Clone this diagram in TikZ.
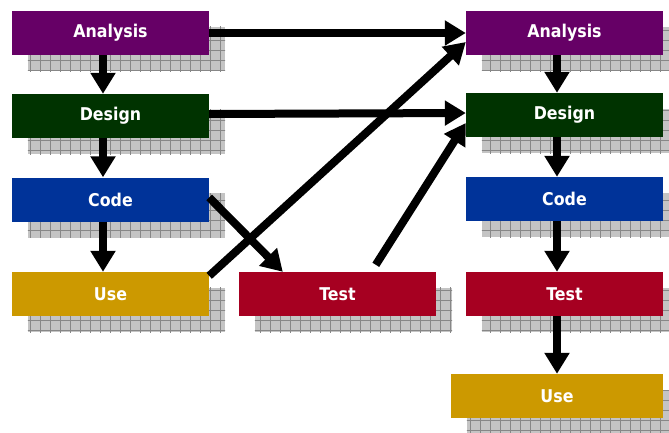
\documentclass[tikz,border=0pt]{standalone}
\usepackage{fontspec}
\setmainfont{DejaVu Sans Condensed}
\usetikzlibrary{arrows.meta,calc}

\definecolor{cAnalysis}{RGB}{102,0,102}
\definecolor{cDesign}{RGB}{0,51,0}
\definecolor{cCode}{RGB}{0,51,153}
\definecolor{cUse}{RGB}{204,153,0}
\definecolor{cTest}{RGB}{166,0,33}
\definecolor{shadefill}{RGB}{196,196,196}
\definecolor{shadegrid}{RGB}{135,135,135}

\tikzset{
  phase/.style={minimum width=197pt, minimum height=44pt, inner sep=0pt,
    text=white, font=\fontsize{17.6}{20}\selectfont\bfseries},
  flow/.style={line width=8pt, -{Triangle[length=21pt,width=24pt]}},
}

% hatched drop shadow behind a box
\newcommand\boxshade[1]{%
  \begin{scope}
    \clip ($(#1.north west)+(16,16)$) rectangle ($(#1.south east)+(16,16)$);
    \fill[shadefill] ($(#1.north west)+(16,16)$) rectangle ($(#1.south east)+(16,16)$);
    \draw[shadegrid, line width=0.9pt, step=10pt]
      ($(#1.north west)+(10,10)$) grid ($(#1.south east)+(22,22)$);
  \end{scope}}

\begin{document}
\begin{tikzpicture}[x=1pt, y=-1pt]
\useasboundingbox (0,0) rectangle (669,432);

% node placement (shadows are drawn first, boxes on top)
\path (110.5,33)  node[phase] (A1) {\phantom{A}}
      (110.5,116) node[phase] (D1) {\phantom{D}}
      (110.5,199.5) node[phase] (C1) {\phantom{C}}
      (110.5,294) node[phase] (U1) {\phantom{U}}
      (337.5,294) node[phase] (T)  {\phantom{T}}
      (564.5,33)  node[phase] (A2) {\phantom{A}}
      (564.5,115) node[phase] (D2) {\phantom{D}}
      (564.5,199) node[phase] (C2) {\phantom{C}}
      (564.5,294) node[phase] (T2) {\phantom{T}}
      (557,396)   node[phase, minimum width=212pt] (U2) {\phantom{U}};

\foreach \n in {A1,D1,C1,U1,T,A2,D2,C2,T2,U2} {\boxshade{\n}}

% the phase boxes
\node[phase, fill=cAnalysis] at (A1) {Analysis};
\node[phase, fill=cDesign]   at (D1) {Design};
\node[phase, fill=cCode]     at (C1) {Code};
\node[phase, fill=cUse]      at (U1) {Use};
\node[phase, fill=cTest]     at (T)  {Test};
\node[phase, fill=cAnalysis] at (A2) {Analysis};
\node[phase, fill=cDesign]   at (D2) {Design};
\node[phase, fill=cCode]     at (C2) {Code};
\node[phase, fill=cTest]     at (T2) {Test};
\node[phase, fill=cUse, minimum width=212pt] at (U2) {Use};

% waterfall on the left
\draw[flow] ($(A1.south)+(-7.5,0)$) -- ($(D1.north)+(-7.5,0)$);
\draw[flow] ($(D1.south)+(-7.5,0)$) -- ($(C1.north)+(-7.5,0)$);
\draw[flow] ($(C1.south)+(-7.5,0)$) -- ($(U1.north)+(-7.5,0)$);

% waterfall on the right
\draw[flow] ($(A2.south)+(-7.5,0)$) -- ($(D2.north)+(-7.5,0)$);
\draw[flow] ($(D2.south)+(-7.5,0)$) -- ($(C2.north)+(-7.5,0)$);
\draw[flow] ($(C2.south)+(-7.5,0)$) -- ($(T2.north)+(-7.5,0)$);
\draw[flow] ($(T2.south)+(-7.5,0)$) -- (U2.north);

% cross links
\draw[flow] (A1.east) -- (A2.west);
\draw[flow] ($(D1.east)+(0,-2)$) -- ($(D2.west)+(0,-2)$);
\draw[flow] ($(C1.east)+(0,-2)$) -- ($(T.north west)+(44,0)$);
\draw[flow] ($(U1.north east)+(0,4)$) -- ($(A2.west)+(0,9)$);
\draw[flow] ($(T.north west)+(137,-7)$) -- ($(D2.west)+(0,8)$);
\end{tikzpicture}
\end{document}
